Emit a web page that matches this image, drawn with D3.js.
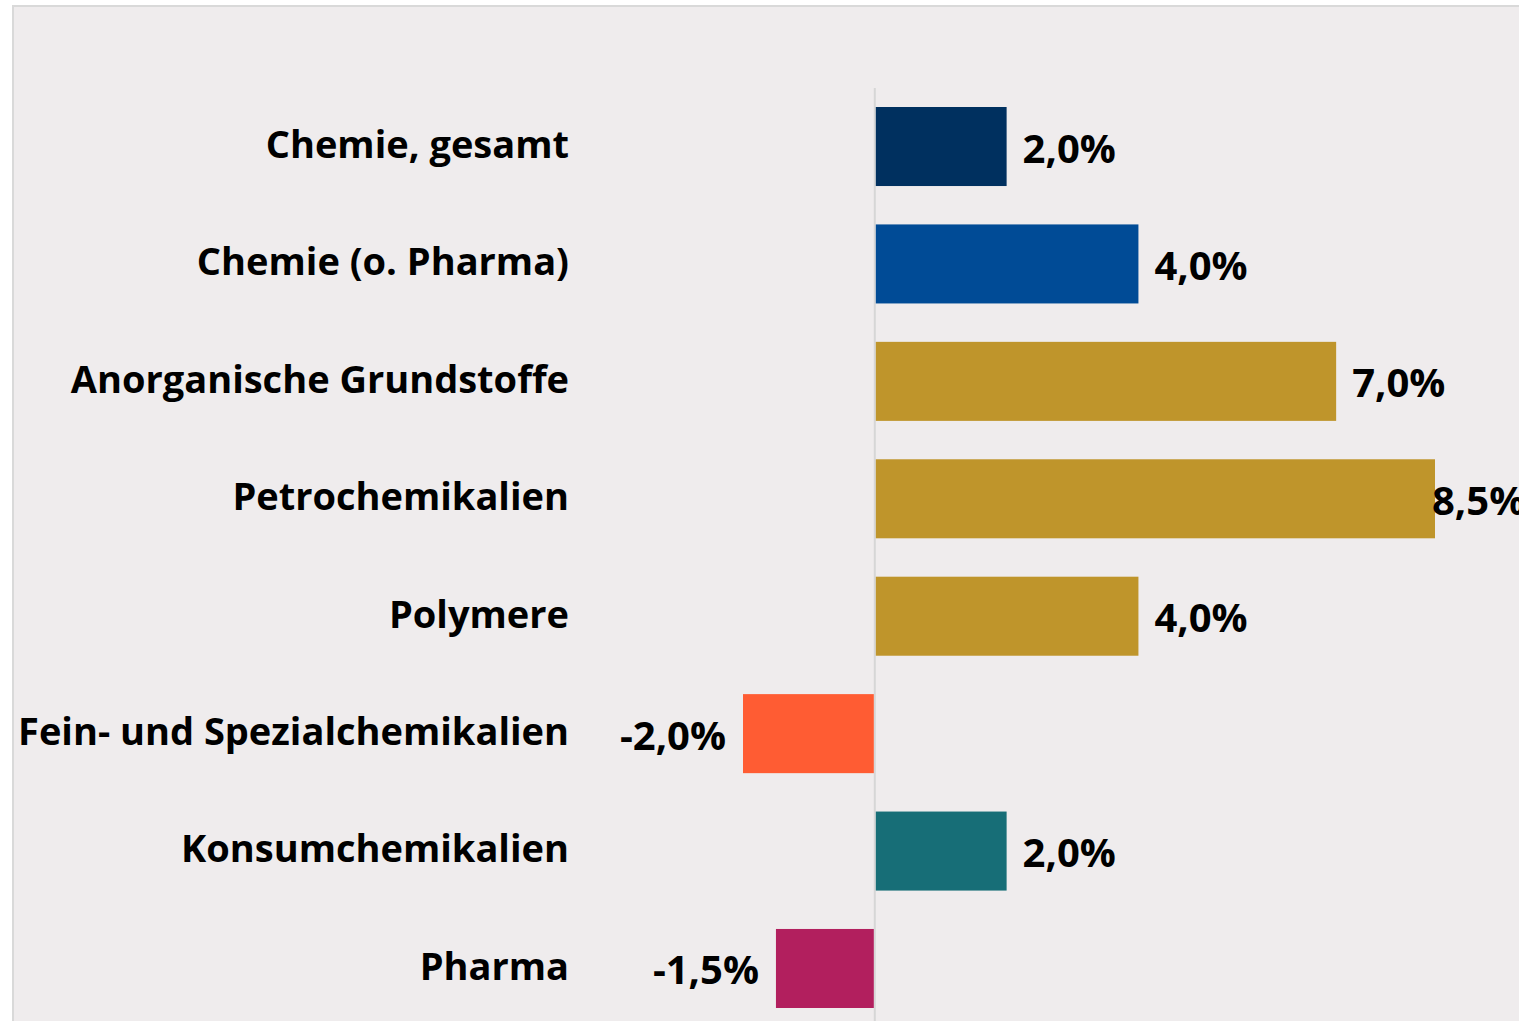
<!DOCTYPE html>
<html lang="de">
<head>
<meta charset="utf-8">
<script src="https://cdn.jsdelivr.net/npm/d3@7"></script>
<style>
  html, body { margin: 0; padding: 0; background: #ffffff; }
  svg { display: block; }
  text { font-family: "Open Sans", Lato, sans-serif; font-weight: 700; fill: #000; }
</style>
</head>
<body>
<svg id="chart" width="1519" height="1021"></svg>
<script>
// Wachstum der Chemieproduktion nach Sparten
const categories = [
  "Chemie, gesamt",
  "Chemie (o. Pharma)",
  "Anorganische Grundstoffe",
  "Petrochemikalien",
  "Polymere",
  "Fein- und Spezialchemikalien",
  "Konsumchemikalien",
  "Pharma"
];
const values = [2.0, 4.0, 7.0, 8.5, 4.0, -2.0, 2.0, -1.5];
const barColors = ["#00305f", "#004b96", "#bf952b", "#bf952b", "#bf952b", "#ff5c33", "#176e77", "#b21f5e"];

const W = 1519, H = 1021;
const svg = d3.select("#chart");

// panel background with light frame on top and left
svg.append("rect").attr("x", 0).attr("y", 0).attr("width", W).attr("height", H).attr("fill", "#ffffff");
svg.append("rect").attr("x", 13).attr("y", 6).attr("width", W - 13).attr("height", H - 6).attr("fill", "#efeced");
svg.append("line").attr("x1", 12).attr("x2", W).attr("y1", 6).attr("y2", 6)
  .attr("stroke", "#d9d9d9").attr("stroke-width", 2);
svg.append("line").attr("x1", 13).attr("x2", 13).attr("y1", 6).attr("y2", H)
  .attr("stroke", "#d9d9d9").attr("stroke-width", 2);

const x = d3.scaleLinear().domain([-2, 8.5]).range([743, 1435]);
const y = d3.scaleBand().domain(categories).range([107, 1008]).paddingInner(0.327).paddingOuter(0);

// German number format with hyphen as minus sign
const fmt = v => (v < 0 ? "-" : "") + Math.abs(v).toFixed(1).replace(".", ",") + "%";

// zero line
svg.append("line")
  .attr("x1", x(0)).attr("x2", x(0)).attr("y1", 88).attr("y2", H)
  .attr("stroke", "#d6d6d6").attr("stroke-width", 2);

const rows = categories.map((c, i) => ({ c, v: values[i], col: barColors[i] }));

svg.append("g").selectAll("rect").data(rows).join("rect")
  .attr("x", d => d.v >= 0 ? x(0) + 1 : x(d.v))
  .attr("width", d => Math.abs(x(d.v) - x(0)) - 1)
  .attr("y", d => y(d.c))
  .attr("height", y.bandwidth())
  .attr("fill", d => d.col);

// category labels
svg.append("g").selectAll("text").data(rows).join("text")
  .attr("x", 569)
  .attr("y", d => y(d.c) + y.bandwidth() / 2 - 2)
  .attr("dy", "0.35em")
  .attr("text-anchor", "end")
  .attr("font-size", 38)
  .text(d => d.c);

// value labels
svg.append("g").selectAll("text").data(rows).join("text")
  .attr("x", d => d.v >= 0 ? Math.min(x(d.v) + 16, 1432) : x(d.v) - 17)
  .attr("y", d => y(d.c) + y.bandwidth() / 2 + 2)
  .attr("dy", "0.35em")
  .attr("text-anchor", d => d.v >= 0 ? "start" : "end")
  .attr("font-size", 40)
  .text(d => fmt(d.v));
</script>
</body>
</html>
